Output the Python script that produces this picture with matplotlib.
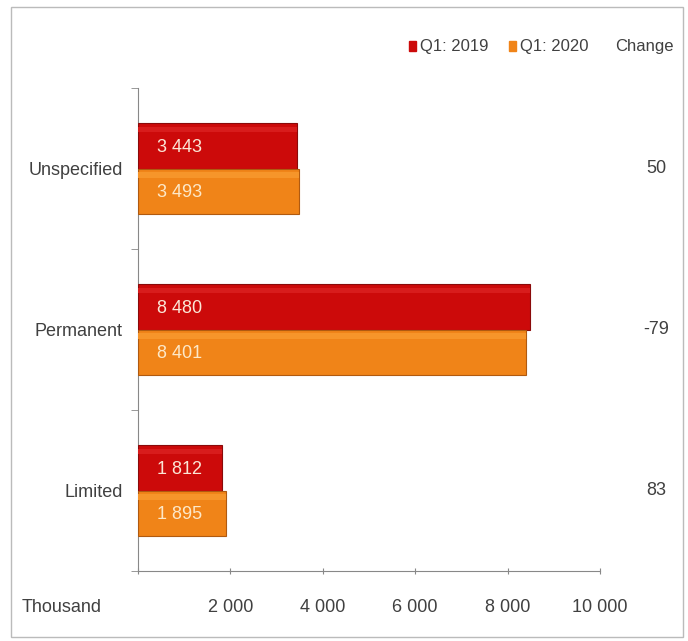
import matplotlib.pyplot as plt
import numpy as np
from matplotlib.patches import Rectangle

# employment contract types, thousand persons
categories = ['Limited', 'Permanent', 'Unspecified']
q1_2019 = [1812, 8480, 3443]
q1_2020 = [1895, 8401, 3493]
change = [83, -79, 50]
xticks = [0, 2000, 4000, 6000, 8000, 10000]

plt.rcParams['font.family'] = ['Liberation Sans', 'DejaVu Sans']

red = '#cc0a0a'
orange = '#f08418'
txt = '#404040'


def fmt(v):
    return f'{v:,}'.replace(',', ' ')


fig = plt.figure(figsize=(6.88, 6.41), dpi=100)
ax = fig.add_axes([138 / 688, 1 - 571 / 641, 462 / 688, 483 / 641])

y = np.arange(len(categories))
h = 0.28
ax.barh(y + h / 2, q1_2019, height=h, color=red, edgecolor='#8a0a0a', lw=0.8, zorder=3)
ax.barh(y - h / 2, q1_2020, height=h, color=orange, edgecolor='#b05a10', lw=0.8, zorder=3)

# lighter band along the top of each bar
ax.barh(y + h / 2 + h * 0.36, q1_2019, height=h * 0.12, color='#d81c1c', lw=0, zorder=4)
ax.barh(y - h / 2 + h * 0.36, q1_2020, height=h * 0.12, color='#f6952a', lw=0, zorder=4)

for i in range(len(categories)):
    ax.annotate(fmt(q1_2019[i]), (0, y[i] + h / 2), xytext=(14, -1), textcoords='offset points',
                va='center', ha='left', color='#fbe6d6', fontsize=13, zorder=5)
    ax.annotate(fmt(q1_2020[i]), (0, y[i] - h / 2), xytext=(14, -1), textcoords='offset points',
                va='center', ha='left', color='#fde8c8', fontsize=13, zorder=5)
    ax.text(1.121, y[i], str(change[i]), transform=ax.get_yaxis_transform(),
            ha='center', va='center', fontsize=13, color=txt)

ax.set_xlim(0, 10000)
ax.set_ylim(-0.5, len(categories) - 0.5)
ax.set_xticks(xticks)
ax.set_xticklabels([''] + [fmt(v) for v in xticks[1:]], fontsize=13, color=txt)
ax.set_yticks(y)
ax.set_yticklabels(categories, fontsize=13, color=txt)
ax.set_yticks(np.arange(len(categories) + 1) - 0.5, minor=True)
ax.tick_params(axis='y', which='major', length=0, pad=11)
ax.tick_params(axis='y', which='minor', length=5, color='#888888')
ax.tick_params(axis='x', length=5, color='#888888', direction='inout', pad=18)
for s in ['top', 'right']:
    ax.spines[s].set_visible(False)
ax.spines['left'].set_color('#888888')
ax.spines['bottom'].set_color('#888888')

fig.text(22 / 688, 1 - 608 / 641, 'Thousand', fontsize=13, color=txt, va='center')

# legend row
fig.patches.append(Rectangle((409 / 688, 1 - 51 / 641), 7 / 688, 10 / 641,
                             transform=fig.transFigure, color=red))
fig.text(420 / 688, 1 - 46 / 641, 'Q1: 2019', fontsize=12, color=txt, va='center')
fig.patches.append(Rectangle((509 / 688, 1 - 51 / 641), 7 / 688, 10 / 641,
                             transform=fig.transFigure, color=orange))
fig.text(520 / 688, 1 - 46 / 641, 'Q1: 2020', fontsize=12, color=txt, va='center')
fig.text(615 / 688, 1 - 46 / 641, 'Change', fontsize=12, color=txt, va='center')

# frame
fig.patches.append(Rectangle((11 / 688, 4 / 641), 672 / 688, 630 / 641, transform=fig.transFigure,
                             fill=False, edgecolor='#bbbbbb', lw=1))

fig.savefig('out.png', dpi=100)
